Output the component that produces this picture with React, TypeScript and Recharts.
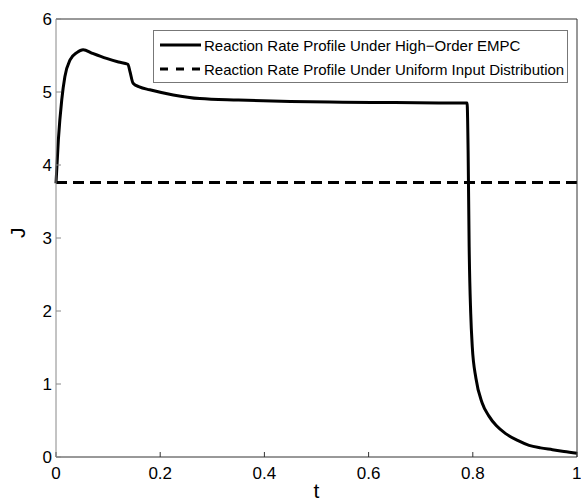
import { LineChart, Line, XAxis, YAxis, Legend } from "recharts";

const tVals = [
  0, 0.0045, 0.011, 0.017, 0.027, 0.04, 0.052, 0.07, 0.097, 0.12, 0.138, 0.142, 0.148, 0.16, 0.18,
  0.225, 0.276, 0.35, 0.45, 0.55, 0.65, 0.75, 0.789, 0.791, 0.793, 0.796, 0.799, 0.806, 0.818, 0.831,
  0.845, 0.863, 0.885, 0.908, 0.93, 0.953, 0.975, 1.0,
];
const empcJ = [
  3.75, 4.34, 4.89, 5.21, 5.44, 5.54, 5.58, 5.53, 5.46, 5.41, 5.38, 5.28, 5.12, 5.07, 5.03, 4.96,
  4.91, 4.89, 4.87, 4.86, 4.855, 4.85, 4.85, 4.2, 2.88, 1.97, 1.51, 1.08, 0.74, 0.56, 0.43, 0.32,
  0.23, 0.16, 0.125, 0.1, 0.075, 0.05,
];
const uniformT = [0, 1];
const uniformJ = [3.76, 3.76];
const xTicks = [0, 0.2, 0.4, 0.6, 0.8, 1];
const yTicks = [0, 1, 2, 3, 4, 5, 6];
const seriesNames = [
  "Reaction Rate Profile Under High\u2212Order EMPC",
  "Reaction Rate Profile Under Uniform Input Distribution",
];

const empcData = tVals.map((t, i) => ({ t, J: empcJ[i] }));
const uniformData = uniformT.map((t, i) => ({ t, J: uniformJ[i] }));

const FONT = "'Liberation Sans', Arial, sans-serif";

function LegendBox() {
  return (
    <div
      style={{
        width: 413,
        height: 51,
        border: "1px solid #777",
        background: "#fff",
        fontFamily: FONT,
        fontSize: 15,
        color: "#000",
        boxSizing: "content-box",
        whiteSpace: "nowrap",
      }}
    >
      {seriesNames.map((name, i) => (
        <div key={name} style={{ display: "flex", alignItems: "center", height: 24, marginTop: i === 0 ? 2 : 0 }}>
          <svg width={44} height={6} style={{ marginLeft: 6 }}>
            <line
              x1={0}
              y1={3}
              x2={41}
              y2={3}
              stroke="#000"
              strokeWidth={3}
              strokeDasharray={i === 1 ? "8 8" : undefined}
            />
          </svg>
          <span>{name}</span>
        </div>
      ))}
    </div>
  );
}

export default function App() {
  return (
    <div style={{ position: "absolute", left: 0, top: 0, background: "#fff" }}>
      <LineChart width={581} height={504} margin={{ top: 18, right: 3, left: 0, bottom: 0 }}>
        <XAxis
          dataKey="t"
          type="number"
          domain={[0, 1]}
          ticks={xTicks}
          height={47}
          tickSize={-5}
          tickMargin={15}
          stroke="#333"
          tick={{ fill: "#000", fontSize: 17, fontFamily: FONT }}
          allowDuplicatedCategory={false}
          label={{ value: "t", position: "insideBottom", offset: 6, fill: "#000", fontSize: 21, fontFamily: FONT }}
        />
        <XAxis
          xAxisId="top"
          orientation="top"
          dataKey="t"
          type="number"
          domain={[0, 1]}
          ticks={xTicks}
          height={1}
          tickSize={-5}
          tick={false}
          stroke="#333"
          allowDuplicatedCategory={false}
        />
        <YAxis
          type="number"
          domain={[0, 6]}
          ticks={yTicks}
          width={56}
          tickSize={-5}
          tickMargin={9}
          stroke="#888"
          tick={{ fill: "#000", fontSize: 17, fontFamily: FONT }}
          label={{ value: "J", angle: -90, position: "insideLeft", offset: 18, fill: "#000", fontSize: 21, fontFamily: FONT }}
        />
        <YAxis
          yAxisId="right"
          orientation="right"
          type="number"
          domain={[0, 6]}
          ticks={yTicks}
          width={1}
          tickSize={-5}
          tick={false}
          stroke="#333"
        />
        <Legend
          layout="horizontal"
          verticalAlign="middle"
          align="center"
          content={() => <LegendBox />}
          wrapperStyle={{ position: "absolute", left: 153, top: 30, width: 415, height: 53 }}
        />
        <Line
          data={empcData}
          dataKey="J"
          type="monotone"
          stroke="#000"
          strokeWidth={3}
          dot={false}
          isAnimationActive={false}
          name={seriesNames[0]}
        />
        <Line
          data={uniformData}
          dataKey="J"
          type="linear"
          stroke="#000"
          strokeWidth={3}
          strokeDasharray="11 6"
          dot={false}
          isAnimationActive={false}
          name={seriesNames[1]}
        />
      </LineChart>
    </div>
  );
}
